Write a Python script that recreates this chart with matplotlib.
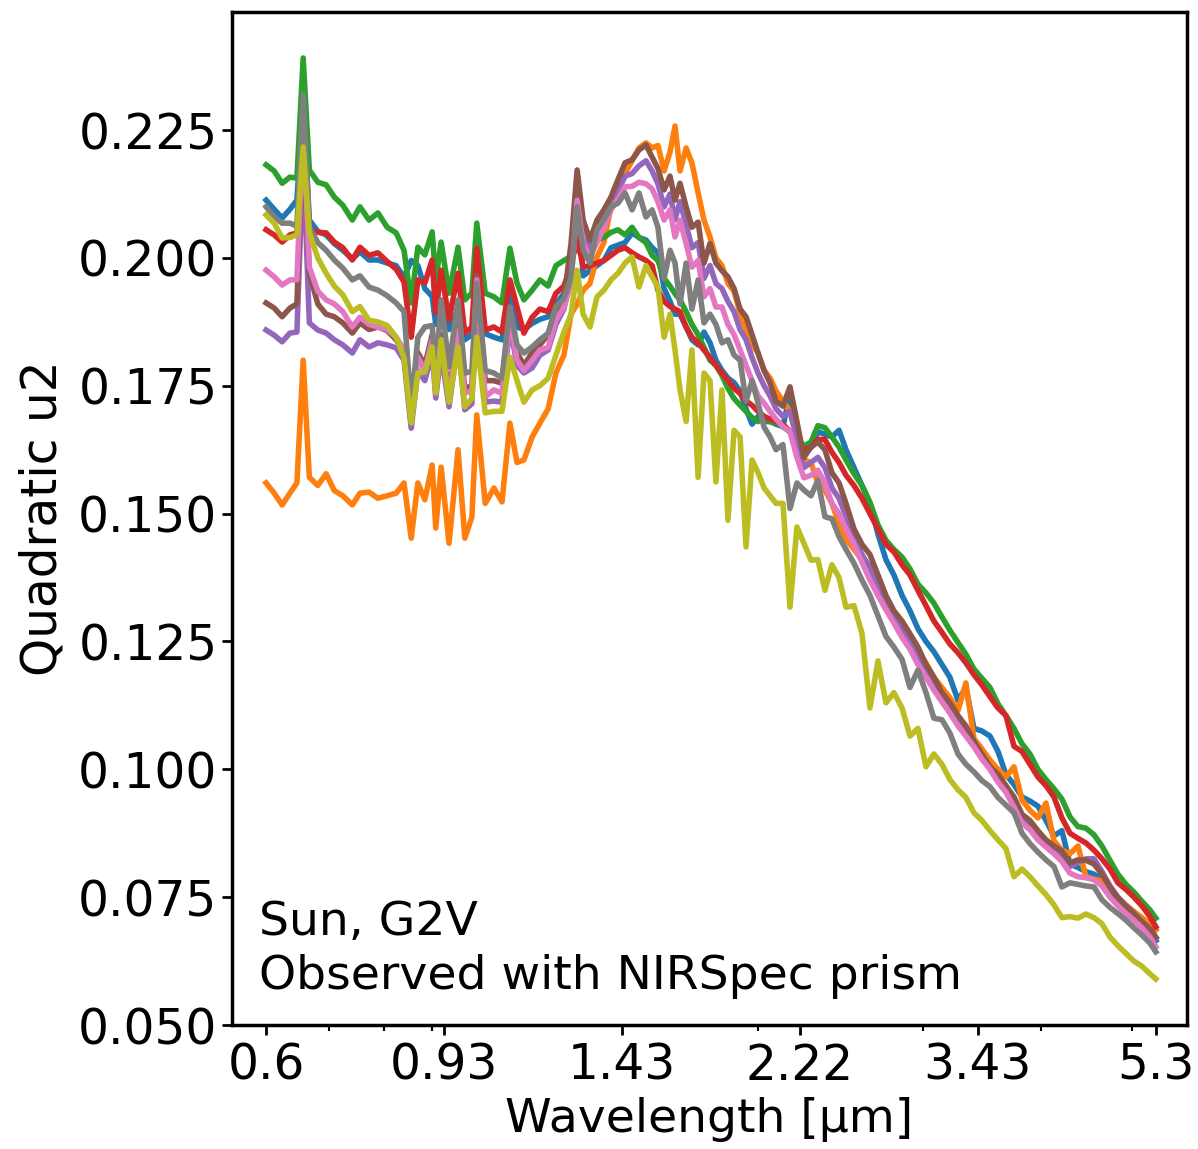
import matplotlib
matplotlib.use("Agg")
import matplotlib.pyplot as plt
from matplotlib.ticker import NullFormatter

# wavelength grid [um]
wavelength = [
    0.600, 0.612, 0.624, 0.636, 0.647, 0.657, 0.667, 0.681, 0.695, 0.709,
    0.724, 0.741, 0.755, 0.772, 0.789, 0.807, 0.825, 0.841, 0.856, 0.870,
    0.885, 0.901, 0.909, 0.921, 0.939, 0.960, 0.976, 0.993, 1.005, 1.026,
    1.048, 1.069, 1.090, 1.109, 1.128, 1.151, 1.173, 1.197, 1.220, 1.244,
    1.266, 1.285, 1.304, 1.326, 1.349, 1.372, 1.396, 1.420, 1.445, 1.470,
    1.495, 1.521, 1.544, 1.566, 1.590, 1.613, 1.633, 1.653, 1.678, 1.702,
    1.728, 1.753, 1.779, 1.805, 1.832, 1.859, 1.887, 1.915, 1.943, 1.972,
    2.001, 2.031, 2.061, 2.091, 2.127, 2.164, 2.201, 2.239, 2.278, 2.317,
    2.357, 2.398, 2.440, 2.482, 2.531, 2.581, 2.632, 2.684, 2.737, 2.791,
    2.847, 2.903, 2.960, 3.019, 3.078, 3.139, 3.201, 3.265, 3.329, 3.395,
    3.462, 3.531, 3.601, 3.672, 3.745, 3.819, 3.894, 3.971, 4.050, 4.130,
    4.211, 4.295, 4.380, 4.466, 4.555, 4.645, 4.737, 4.830, 4.926, 5.023,
    5.122, 5.224, 5.300,
]

u2_blue = [
    0.2113, 0.2095, 0.2078, 0.2095, 0.2113, 0.2300, 0.2074, 0.2052, 0.2045, 0.2028,
    0.2015, 0.1998, 0.2012, 0.1996, 0.1996, 0.1990, 0.1985, 0.1962, 0.1995, 0.1985,
    0.1940, 0.1925, 0.1870, 0.1900, 0.1860, 0.1900, 0.1840, 0.1850, 0.1950, 0.1852,
    0.1845, 0.1840, 0.1930, 0.1865, 0.1860, 0.1872, 0.1880, 0.1885, 0.1910, 0.1930,
    0.1960, 0.2140, 0.1965, 0.1975, 0.1985, 0.1995, 0.2020, 0.2025, 0.2030, 0.2049,
    0.2040, 0.2035, 0.2020, 0.2010, 0.1940, 0.1915, 0.1890, 0.1890, 0.1865, 0.1840,
    0.1830, 0.1855, 0.1834, 0.1800, 0.1780, 0.1765, 0.1756, 0.1740, 0.1705, 0.1675,
    0.1690, 0.1680, 0.1680, 0.1675, 0.1670, 0.1736, 0.1650, 0.1625, 0.1630, 0.1660,
    0.1655, 0.1650, 0.1663, 0.1625, 0.1590, 0.1555, 0.1520, 0.1460, 0.1410, 0.1380,
    0.1340, 0.1310, 0.1275, 0.1250, 0.1230, 0.1205, 0.1180, 0.1135, 0.1160, 0.1080,
    0.1075, 0.1065, 0.1035, 0.0990, 0.0970, 0.0946, 0.0938, 0.0928, 0.0900, 0.0870,
    0.0880, 0.0815, 0.0808, 0.0800, 0.0795, 0.0785, 0.0765, 0.0745, 0.0728, 0.0712,
    0.0698, 0.0682, 0.0665,
]

u2_orange = [
    0.1560, 0.1540, 0.1517, 0.1540, 0.1560, 0.1800, 0.1571, 0.1555, 0.1578, 0.1545,
    0.1535, 0.1517, 0.1540, 0.1542, 0.1530, 0.1535, 0.1540, 0.1560, 0.1452, 0.1560,
    0.1527, 0.1595, 0.1472, 0.1591, 0.1442, 0.1625, 0.1452, 0.1493, 0.1693, 0.1520,
    0.1550, 0.1523, 0.1677, 0.1600, 0.1605, 0.1650, 0.1677, 0.1705, 0.1775, 0.1810,
    0.1890, 0.1910, 0.1937, 0.1950, 0.2002, 0.2030, 0.2100, 0.2130, 0.2165, 0.2190,
    0.2215, 0.2225, 0.2215, 0.2220, 0.2170, 0.2207, 0.2258, 0.2170, 0.2215, 0.2186,
    0.2127, 0.2074, 0.2041, 0.2000, 0.1985, 0.1950, 0.1935, 0.1892, 0.1860, 0.1830,
    0.1814, 0.1780, 0.1765, 0.1740, 0.1720, 0.1700, 0.1650, 0.1605, 0.1600, 0.1560,
    0.1546, 0.1520, 0.1480, 0.1450, 0.1430, 0.1410, 0.1385, 0.1350, 0.1315, 0.1290,
    0.1270, 0.1250, 0.1230, 0.1208, 0.1180, 0.1160, 0.1140, 0.1115, 0.1169, 0.1060,
    0.1040, 0.1018, 0.1000, 0.0985, 0.1005, 0.0940, 0.0920, 0.0905, 0.0934, 0.0860,
    0.0842, 0.0835, 0.0850, 0.0790, 0.0785, 0.0782, 0.0770, 0.0750, 0.0735, 0.0722,
    0.0710, 0.0698, 0.0686,
]

u2_green = [
    0.2182, 0.2170, 0.2146, 0.2158, 0.2156, 0.2391, 0.2172, 0.2148, 0.2143, 0.2119,
    0.2103, 0.2074, 0.2100, 0.2074, 0.2088, 0.2060, 0.2049, 0.2015, 0.1912, 0.2021,
    0.2006, 0.2051, 0.1957, 0.2031, 0.1931, 0.2021, 0.1918, 0.1931, 0.2068, 0.1931,
    0.1924, 0.1912, 0.2019, 0.1951, 0.1918, 0.1937, 0.1957, 0.1945, 0.1985, 0.1995,
    0.2003, 0.2020, 0.2005, 0.2020, 0.2035, 0.2040, 0.2050, 0.2055, 0.2045, 0.2060,
    0.2040, 0.2030, 0.2005, 0.1995, 0.1960, 0.1945, 0.1930, 0.1918, 0.1895, 0.1870,
    0.1850, 0.1825, 0.1800, 0.1790, 0.1770, 0.1745, 0.1725, 0.1712, 0.1700, 0.1688,
    0.1680, 0.1690, 0.1680, 0.1678, 0.1670, 0.1660, 0.1650, 0.1632, 0.1640, 0.1672,
    0.1668, 0.1650, 0.1630, 0.1605, 0.1578, 0.1555, 0.1522, 0.1478, 0.1448, 0.1430,
    0.1415, 0.1392, 0.1362, 0.1345, 0.1325, 0.1298, 0.1272, 0.1248, 0.1225, 0.1196,
    0.1178, 0.1160, 0.1128, 0.1105, 0.1080, 0.1050, 0.1030, 0.1000, 0.0980, 0.0962,
    0.0942, 0.0907, 0.0888, 0.0885, 0.0872, 0.0850, 0.0822, 0.0795, 0.0775, 0.0760,
    0.0742, 0.0725, 0.0709,
]

u2_red = [
    0.2055, 0.2045, 0.2031, 0.2045, 0.2049, 0.2260, 0.2055, 0.2050, 0.2049, 0.2031,
    0.2020, 0.1996, 0.2021, 0.2005, 0.2010, 0.1993, 0.1978, 0.1953, 0.1845, 0.1957,
    0.1951, 0.1996, 0.1892, 0.1976, 0.1879, 0.1970, 0.1853, 0.1865, 0.2019, 0.1859,
    0.1865, 0.1855, 0.1957, 0.1904, 0.1853, 0.1884, 0.1900, 0.1895, 0.1931, 0.1945,
    0.1985, 0.2040, 0.1982, 0.1985, 0.1990, 0.1995, 0.2005, 0.2015, 0.2020, 0.2010,
    0.2002, 0.1995, 0.1985, 0.1937, 0.1915, 0.1905, 0.1900, 0.1895, 0.1865, 0.1845,
    0.1834, 0.1820, 0.1805, 0.1790, 0.1775, 0.1760, 0.1745, 0.1735, 0.1720, 0.1712,
    0.1700, 0.1690, 0.1685, 0.1680, 0.1675, 0.1660, 0.1640, 0.1625, 0.1630, 0.1645,
    0.1645, 0.1620, 0.1600, 0.1575, 0.1555, 0.1530, 0.1500, 0.1470, 0.1440, 0.1425,
    0.1400, 0.1380, 0.1350, 0.1320, 0.1290, 0.1268, 0.1245, 0.1228, 0.1208, 0.1185,
    0.1165, 0.1142, 0.1120, 0.1105, 0.1045, 0.1035, 0.1010, 0.0985, 0.0968, 0.0946,
    0.0905, 0.0875, 0.0865, 0.0856, 0.0842, 0.0825, 0.0805, 0.0778, 0.0765, 0.0750,
    0.0733, 0.0712, 0.0692,
]

u2_purple = [
    0.1859, 0.1849, 0.1836, 0.1853, 0.1855, 0.2200, 0.1873, 0.1859, 0.1853, 0.1840,
    0.1830, 0.1814, 0.1840, 0.1826, 0.1834, 0.1830, 0.1824, 0.1800, 0.1667, 0.1780,
    0.1760, 0.1815, 0.1726, 0.1815, 0.1709, 0.1840, 0.1703, 0.1715, 0.1940, 0.1718,
    0.1720, 0.1718, 0.1870, 0.1790, 0.1775, 0.1785, 0.1810, 0.1820, 0.1870, 0.1900,
    0.1960, 0.2130, 0.2040, 0.2020, 0.2060, 0.2080, 0.2110, 0.2130, 0.2160, 0.2165,
    0.2180, 0.2190, 0.2170, 0.2145, 0.2100, 0.2125, 0.2075, 0.2110, 0.2065, 0.2020,
    0.2030, 0.1960, 0.1985, 0.1950, 0.1940, 0.1915, 0.1895, 0.1860, 0.1840, 0.1805,
    0.1775, 0.1750, 0.1730, 0.1705, 0.1690, 0.1700, 0.1645, 0.1590, 0.1600, 0.1610,
    0.1590, 0.1550, 0.1530, 0.1495, 0.1455, 0.1420, 0.1395, 0.1360, 0.1325, 0.1298,
    0.1272, 0.1250, 0.1220, 0.1192, 0.1168, 0.1142, 0.1120, 0.1095, 0.1075, 0.1050,
    0.1025, 0.1003, 0.0982, 0.0960, 0.0935, 0.0903, 0.0890, 0.0870, 0.0855, 0.0843,
    0.0830, 0.0810, 0.0818, 0.0825, 0.0825, 0.0800, 0.0772, 0.0750, 0.0733, 0.0718,
    0.0702, 0.0688, 0.0670,
]

u2_brown = [
    0.1912, 0.1902, 0.1885, 0.1902, 0.1910, 0.2240, 0.1970, 0.1910, 0.1890, 0.1885,
    0.1873, 0.1853, 0.1873, 0.1860, 0.1865, 0.1858, 0.1840, 0.1814, 0.1677, 0.1815,
    0.1790, 0.1850, 0.1745, 0.1850, 0.1730, 0.1870, 0.1745, 0.1750, 0.1965, 0.1760,
    0.1760, 0.1755, 0.1900, 0.1815, 0.1790, 0.1815, 0.1830, 0.1850, 0.1880, 0.1920,
    0.2028, 0.2172, 0.2074, 0.2035, 0.2074, 0.2094, 0.2119, 0.2153, 0.2186, 0.2192,
    0.2211, 0.2221, 0.2197, 0.2175, 0.2133, 0.2160, 0.2113, 0.2146, 0.2100, 0.2060,
    0.2070, 0.1990, 0.2028, 0.1990, 0.1975, 0.1963, 0.1940, 0.1900, 0.1885, 0.1850,
    0.1814, 0.1780, 0.1755, 0.1720, 0.1710, 0.1748, 0.1680, 0.1610, 0.1630, 0.1640,
    0.1625, 0.1580, 0.1560, 0.1520, 0.1470, 0.1440, 0.1420, 0.1380, 0.1340, 0.1310,
    0.1290, 0.1265, 0.1239, 0.1205, 0.1180, 0.1150, 0.1130, 0.1105, 0.1085, 0.1055,
    0.1030, 0.1005, 0.0990, 0.0968, 0.0946, 0.0912, 0.0900, 0.0880, 0.0862, 0.0850,
    0.0840, 0.0817, 0.0823, 0.0822, 0.0815, 0.0795, 0.0770, 0.0748, 0.0732, 0.0718,
    0.0702, 0.0688, 0.0672,
]

u2_pink = [
    0.1976, 0.1963, 0.1947, 0.1957, 0.1957, 0.2260, 0.1982, 0.1935, 0.1918, 0.1910,
    0.1895, 0.1865, 0.1884, 0.1870, 0.1865, 0.1860, 0.1845, 0.1820, 0.1689, 0.1806,
    0.1780, 0.1840, 0.1736, 0.1840, 0.1722, 0.1859, 0.1736, 0.1740, 0.1957, 0.1728,
    0.1742, 0.1735, 0.1884, 0.1800, 0.1780, 0.1800, 0.1820, 0.1825, 0.1879, 0.1904,
    0.1950, 0.2113, 0.2028, 0.2002, 0.2030, 0.2060, 0.2094, 0.2115, 0.2139, 0.2140,
    0.2148, 0.2145, 0.2135, 0.2110, 0.2074, 0.2094, 0.2041, 0.2074, 0.2028, 0.1982,
    0.1995, 0.1924, 0.1940, 0.1904, 0.1904, 0.1870, 0.1850, 0.1820, 0.1790, 0.1760,
    0.1730, 0.1716, 0.1700, 0.1685, 0.1670, 0.1660, 0.1610, 0.1570, 0.1575, 0.1585,
    0.1560, 0.1520, 0.1500, 0.1470, 0.1440, 0.1405, 0.1370, 0.1340, 0.1312, 0.1286,
    0.1258, 0.1235, 0.1205, 0.1180, 0.1155, 0.1132, 0.1110, 0.1085, 0.1065, 0.1044,
    0.1020, 0.1000, 0.0975, 0.0955, 0.0926, 0.0895, 0.0882, 0.0862, 0.0848, 0.0835,
    0.0820, 0.0797, 0.0790, 0.0788, 0.0784, 0.0772, 0.0750, 0.0733, 0.0718, 0.0705,
    0.0690, 0.0672, 0.0653,
]

u2_gray = [
    0.2100, 0.2080, 0.2068, 0.2068, 0.2062, 0.2319, 0.2060, 0.2030, 0.2015, 0.1996,
    0.1980, 0.1957, 0.1965, 0.1943, 0.1937, 0.1926, 0.1912, 0.1895, 0.1709, 0.1845,
    0.1865, 0.1868, 0.1775, 0.1918, 0.1787, 0.1918, 0.1775, 0.1778, 0.1951, 0.1780,
    0.1775, 0.1765, 0.1904, 0.1830, 0.1814, 0.1826, 0.1840, 0.1853, 0.1905, 0.1920,
    0.1960, 0.2100, 0.2015, 0.1990, 0.2055, 0.2075, 0.2100, 0.2107, 0.2127, 0.2094,
    0.2127, 0.2080, 0.2094, 0.2060, 0.1960, 0.2015, 0.1990, 0.1910, 0.1990, 0.1900,
    0.1957, 0.1873, 0.1890, 0.1870, 0.1834, 0.1840, 0.1810, 0.1800, 0.1720, 0.1760,
    0.1716, 0.1669, 0.1650, 0.1625, 0.1635, 0.1510, 0.1560, 0.1546, 0.1535, 0.1565,
    0.1494, 0.1490, 0.1455, 0.1430, 0.1403, 0.1370, 0.1340, 0.1300, 0.1260, 0.1239,
    0.1215, 0.1160, 0.1194, 0.1150, 0.1100, 0.1097, 0.1071, 0.1030, 0.1010, 0.0995,
    0.0978, 0.0966, 0.0945, 0.0930, 0.0915, 0.0875, 0.0855, 0.0838, 0.0823, 0.0810,
    0.0770, 0.0778, 0.0775, 0.0772, 0.0770, 0.0745, 0.0730, 0.0718, 0.0705, 0.0690,
    0.0676, 0.0660, 0.0643,
]

u2_olive = [
    0.2084, 0.2068, 0.2039, 0.2040, 0.2045, 0.2217, 0.2049, 0.2000, 0.1970, 0.1945,
    0.1928, 0.1895, 0.1905, 0.1878, 0.1875, 0.1868, 0.1845, 0.1805, 0.1677, 0.1775,
    0.1777, 0.1826, 0.1736, 0.1840, 0.1718, 0.1826, 0.1709, 0.1725, 0.1845, 0.1697,
    0.1700, 0.1700, 0.1806, 0.1760, 0.1718, 0.1742, 0.1750, 0.1765, 0.1810, 0.1855,
    0.1890, 0.1976, 0.1890, 0.1865, 0.1924, 0.1937, 0.1957, 0.1970, 0.1990, 0.2002,
    0.1943, 0.1985, 0.1963, 0.1943, 0.1845, 0.1890, 0.1820, 0.1742, 0.1680, 0.1820,
    0.1571, 0.1775, 0.1760, 0.1562, 0.1742, 0.1487, 0.1663, 0.1650, 0.1435, 0.1605,
    0.1580, 0.1550, 0.1535, 0.1520, 0.1520, 0.1317, 0.1474, 0.1442, 0.1409, 0.1410,
    0.1350, 0.1400, 0.1375, 0.1317, 0.1320, 0.1266, 0.1120, 0.1212, 0.1130, 0.1150,
    0.1120, 0.1065, 0.1080, 0.1005, 0.1030, 0.1010, 0.0980, 0.0960, 0.0945, 0.0915,
    0.0900, 0.0880, 0.0862, 0.0845, 0.0790, 0.0805, 0.0790, 0.0772, 0.0755, 0.0735,
    0.0710, 0.0712, 0.0709, 0.0717, 0.0710, 0.0698, 0.0672, 0.0655, 0.0640, 0.0625,
    0.0615, 0.0600, 0.0590,
]

series = [u2_blue, u2_orange, u2_green, u2_red, u2_purple,
          u2_brown, u2_pink, u2_gray, u2_olive]

xtick_vals = [0.6, 0.9276, 1.434, 2.217, 3.428, 5.3]
xtick_labels = ["0.6", "0.93", "1.43", "2.22", "3.43", "5.3"]
ytick_vals = [0.050, 0.075, 0.100, 0.125, 0.150, 0.175, 0.200, 0.225]


def main():
    fig = plt.figure(figsize=(11.98, 11.49), dpi=100)
    ax = fig.add_axes([0.1937, 0.1079, 0.7971, 0.8817])

    for vals in series:
        ax.plot(wavelength, vals, lw=4)

    ax.set_xscale("log")
    ax.set_xlim(0.552, 5.72)
    ax.set_ylim(0.05, 0.2481)

    ax.set_xticks(xtick_vals)
    ax.set_xticklabels(xtick_labels)
    ax.xaxis.set_minor_formatter(NullFormatter())
    ax.set_yticks(ytick_vals)
    ax.set_yticklabels([f"{v:.3f}" for v in ytick_vals])

    ax.tick_params(which="major", labelsize=35, length=7, width=2)
    ax.tick_params(axis="x", which="major", pad=5)
    ax.tick_params(which="minor", length=4, width=1.5)
    for sp in ax.spines.values():
        sp.set_linewidth(2.5)

    ax.set_xlabel("Wavelength [μm]", fontsize=34, labelpad=5)
    ax.set_ylabel("Quadratic u2", fontsize=35, labelpad=8)

    ax.text(0.028, 0.026, "Sun, G2V\nObserved with NIRSpec prism",
            transform=ax.transAxes, fontsize=34, ha="left", va="bottom",
            linespacing=1.25)

    fig.savefig("out.png", dpi=100)


if __name__ == "__main__":
    main()
